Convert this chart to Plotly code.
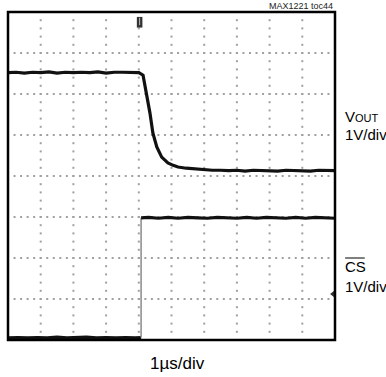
import plotly.graph_objects as go

# Scope capture: 10 horizontal divisions (1 us/div), 8 vertical divisions (1 V/div)
X_DIVS = 10
Y_DIVS = 8

# V_OUT trace (time in divisions, level in divisions)
vout_t = [0.0, 0.25, 0.5, 0.75, 1.0, 1.25, 1.5, 1.75, 2.0, 2.25, 2.5, 2.75, 3.0,
          3.25, 3.5, 3.75, 4.0, 4.13, 4.24, 4.34, 4.43, 4.55, 4.70, 4.89, 5.05,
          5.20, 5.45, 5.72, 6.0, 6.25, 6.5, 6.75, 7.0, 7.25, 7.5, 7.75, 8.0,
          8.25, 8.5, 8.75, 9.0, 9.25, 9.5, 9.75, 10.0]
vout_v = [6.52, 6.53, 6.51, 6.53, 6.52, 6.54, 6.51, 6.53, 6.52, 6.53, 6.52, 6.54,
          6.51, 6.53, 6.53, 6.52, 6.52, 6.46, 6.02, 5.54, 5.05, 4.71, 4.46, 4.32,
          4.26, 4.22, 4.19, 4.17, 4.15, 4.14, 4.14, 4.13, 4.14, 4.12, 4.14, 4.13,
          4.13, 4.12, 4.14, 4.13, 4.13, 4.12, 4.14, 4.13, 4.13]

# /CS trace
cs_low_t = [0.0, 0.3, 0.6, 0.9, 1.2, 1.5, 1.8, 2.1, 2.4, 2.7, 3.0, 3.3, 3.6, 3.9, 4.07]
cs_low_v = [0.05, 0.06, 0.05, 0.06, 0.05, 0.07, 0.05, 0.06, 0.07, 0.05, 0.06, 0.05,
            0.06, 0.05, 0.06]
cs_edge_t = [4.07, 4.07]
cs_edge_v = [0.06, 2.98]
cs_high_t = [4.07, 4.3, 4.6, 4.9, 5.2, 5.5, 5.8, 6.1, 6.4, 6.7, 7.0, 7.3, 7.6,
             7.9, 8.2, 8.5, 8.8, 9.1, 9.4, 9.7, 10.0]
cs_high_v = [2.98, 2.99, 2.97, 2.99, 2.97, 2.99, 2.98, 2.97, 2.99, 2.98, 2.97,
             2.99, 2.97, 2.99, 2.98, 2.97, 2.99, 2.97, 2.99, 2.98, 2.97]

# Trigger level marker on the right edge (divisions)
trig_level = 1.12

FONT = "Liberation Sans Narrow, Arial Narrow, Liberation Sans, Arial, sans-serif"

fig = go.Figure()

# Graticule: dotted lines, 5 dots per division
gx, gy = [], []
for i in range(1, X_DIVS):
    for k in range(Y_DIVS * 5 + 1):
        gx.append(i)
        gy.append(k / 5)
for j in range(1, Y_DIVS):
    for k in range(X_DIVS * 5 + 1):
        gx.append(k / 5)
        gy.append(j)
fig.add_trace(go.Scatter(x=gx, y=gy, mode="markers",
                         marker=dict(symbol="square", size=2, color="#a0a0a0"),
                         hoverinfo="skip", showlegend=False))

trace_line = dict(color="#111111", width=3.2)
fig.add_trace(go.Scatter(x=vout_t, y=vout_v, mode="lines", line=trace_line,
                         showlegend=False))
fig.add_trace(go.Scatter(x=cs_low_t, y=cs_low_v, mode="lines", line=trace_line,
                         showlegend=False))
fig.add_trace(go.Scatter(x=cs_edge_t, y=cs_edge_v, mode="lines",
                         line=dict(color="#8a8a8a", width=1.5), showlegend=False))
fig.add_trace(go.Scatter(x=cs_high_t, y=cs_high_v, mode="lines", line=trace_line,
                         showlegend=False))

# Trigger level arrow
fig.add_trace(go.Scatter(x=[X_DIVS - 0.06], y=[trig_level], mode="markers",
                         marker=dict(symbol="triangle-left", size=6, color="#333333"),
                         cliponaxis=False, showlegend=False))

shapes = [
    # screen frame
    dict(type="rect", xref="paper", yref="paper", x0=0, y0=0, x1=1, y1=1,
         line=dict(color="black", width=2.5)),
    # trigger position marker at top
    dict(type="rect", xref="x", yref="y", x0=3.94, x1=4.11, y0=7.62, y1=7.88,
         fillcolor="#333333", line=dict(width=0)),
    dict(type="line", xref="x", yref="y", x0=4.025, x1=4.025, y0=7.68, y1=7.86,
         line=dict(color="#bbbbbb", width=1)),
    # overline for CS
    dict(type="line", xref="paper", yref="paper", x0=1.031, x1=1.091,
         y0=1 - (258 - 12) / 328, y1=1 - (258 - 12) / 328,
         line=dict(color="black", width=1)),
]

def py(pix):
    return 1 - (pix - 12) / 328

def px(pix):
    return (pix - 8) / 327

annotations = [
    dict(text="MAX1221 toc44", x=1, y=py(6), xref="paper", yref="paper",
         xanchor="right", yanchor="middle", showarrow=False,
         font=dict(family=FONT, size=9, color="#222222")),
    dict(text="V<span style='font-size:11px'>OUT</span>", x=px(343), y=py(117),
         xref="paper", yref="paper", xanchor="left", yanchor="middle",
         showarrow=False, font=dict(family=FONT, size=15, color="black")),
    dict(text="1V/div", x=px(343), y=py(134), xref="paper", yref="paper",
         xanchor="left", yanchor="middle", showarrow=False,
         font=dict(family=FONT, size=15, color="black")),
    dict(text="CS", x=px(343), y=py(266), xref="paper", yref="paper",
         xanchor="left", yanchor="middle", showarrow=False,
         font=dict(family=FONT, size=15, color="black")),
    dict(text="1V/div", x=px(343), y=py(286), xref="paper", yref="paper",
         xanchor="left", yanchor="middle", showarrow=False,
         font=dict(family=FONT, size=15, color="black")),
    dict(text="1\u00b5s/div", x=px(178), y=py(363), xref="paper", yref="paper",
         xanchor="center", yanchor="middle", showarrow=False,
         font=dict(family=FONT, size=17, color="black")),
]

fig.update_layout(
    width=386, height=377,
    margin=dict(l=8, r=51, t=12, b=37),
    paper_bgcolor="white", plot_bgcolor="white",
    xaxis=dict(range=[0, X_DIVS], showgrid=False, zeroline=False,
               showticklabels=False, ticks="", fixedrange=True),
    yaxis=dict(range=[0, Y_DIVS], showgrid=False, zeroline=False,
               showticklabels=False, ticks="", fixedrange=True),
    shapes=shapes, annotations=annotations,
)

fig.write_html("out.html")
